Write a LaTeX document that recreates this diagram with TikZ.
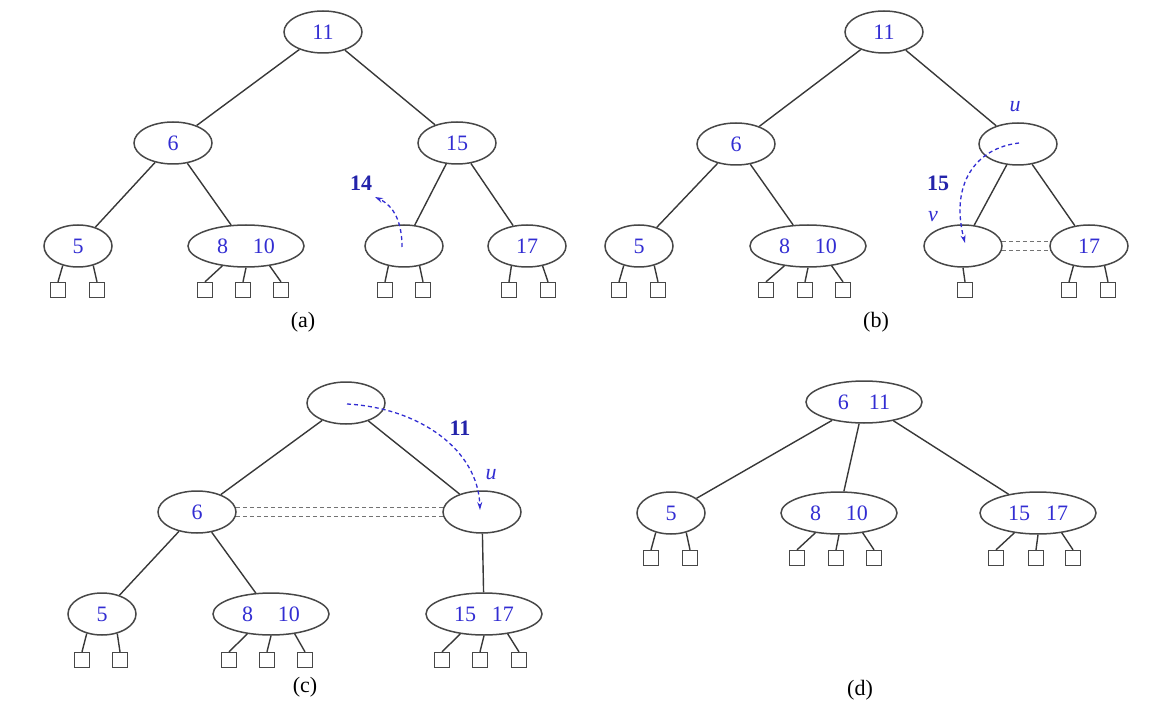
\documentclass[tikz,border=0pt]{standalone}
\usepackage{fontspec}
\setmainfont{Liberation Serif}
\usetikzlibrary{shapes.geometric,arrows.meta}
\definecolor{numblue}{RGB}{50,45,210}
\definecolor{boldblue}{RGB}{35,35,170}
\newcommand{\numfont}{\fontsize{22}{26}\selectfont}
\tikzset{
 tn/.style={ellipse, draw=black!72, line width=1.5pt, inner sep=0pt, minimum height=42pt, text=numblue, font=\numfont},
 sm/.style={tn, minimum width=78pt},
 sn/.style={tn, minimum width=68pt},
 wd/.style={tn, minimum width=116pt},
 leaf/.style={rectangle, draw=black!72, line width=1.3pt, minimum size=15pt, inner sep=0pt},
 edge/.style={draw=black!78, line width=1.4pt},
 thread/.style={draw=black!55, line width=1.3pt, dash pattern=on 4.5pt off 2.5pt},
 move/.style={draw=numblue, line width=1.3pt, dash pattern=on 4pt off 3pt, -{Stealth[length=8pt,width=5pt]}},
 lbl/.style={font=\numfont, inner sep=0pt},
 mv/.style={text=boldblue, font=\numfont\bfseries, inner sep=0pt},
 var/.style={text=numblue, font=\numfont\itshape, inner sep=0pt},
}
\begin{document}
\begin{tikzpicture}[x=1pt,y=-1pt]
\useasboundingbox (0,0) rectangle (1152,722);
% ---------------- (a)
\node[sm] (a11) at (323,32) {11};
\node[sm] (a6) at (173,143) {6};
\node[sm] (a15) at (457,143) {15};
\node[sn] (a5) at (78,246) {5};
\node[wd] (a810) at (246,246) {8\hspace{25pt}10};
\node[sm] (ae) at (404,246) {};
\node[sm] (a17) at (527,246) {17};
\foreach \n/\x in {a5l1/58,a5l2/97,a810l1/205,a810l2/243,a810l3/281,ael1/385,ael2/423,a17l1/509,a17l2/548}
  \node[leaf] (\n) at (\x,290) {};
\draw[edge] (a11) -- (a6); \draw[edge] (a11) -- (a15);
\draw[edge] (a6) -- (a5); \draw[edge] (a6) -- (a810);
\draw[edge] (a15) -- (ae); \draw[edge] (a15) -- (a17);
\draw[edge] (a5.232) -- (a5l1.north); \draw[edge] (a5.308) -- (a5l2.north);
\draw[edge] (a810.220) -- (a810l1.north); \draw[edge] (a810.270) -- (a810l2.north); \draw[edge] (a810.320) -- (a810l3.north);
\draw[edge] (ae.232) -- (ael1.north); \draw[edge] (ae.308) -- (ael2.north);
\draw[edge] (a17.232) -- (a17l1.north); \draw[edge] (a17.308) -- (a17l2.north);
\coordinate (as) at (402,247);
\coordinate (at) at (375,197);
\draw[move] (as) .. controls (402,222) and (394,206) .. (at);
\node[mv] (a14) at (361,183) {14};
\node[lbl] (acap) at (303,322) {(a)};
% ---------------- (b)
\node[sm] (b11) at (884,32) {11};
\node[sm] (b6) at (736,144) {6};
\node[sm] (bu) at (1018,144) {};
\node[sn] (b5) at (639,246) {5};
\node[wd] (b810) at (808,246) {8\hspace{25pt}10};
\node[sm] (bv) at (963,246) {};
\node[sm] (b17) at (1089,246) {17};
\foreach \n/\x in {b5l1/619,b5l2/658,b810l1/766,b810l2/805,b810l3/843,bvl/965,b17l1/1069,b17l2/1108}
  \node[leaf] (\n) at (\x,290) {};
\draw[edge] (b11) -- (b6); \draw[edge] (b11) -- (bu);
\draw[edge] (b6) -- (b5); \draw[edge] (b6) -- (b810);
\draw[edge] (bu) -- (bv); \draw[edge] (bu) -- (b17);
\draw[edge] (b5.232) -- (b5l1.north); \draw[edge] (b5.308) -- (b5l2.north);
\draw[edge] (b810.220) -- (b810l1.north); \draw[edge] (b810.270) -- (b810l2.north); \draw[edge] (b810.320) -- (b810l3.north);
\draw[edge] (bv.south) -- (bvl.north);
\draw[edge] (b17.232) -- (b17l1.north); \draw[edge] (b17.308) -- (b17l2.north);
\draw[thread] (bv.7) -- (b17.173);
\draw[thread] (bv.-7) -- (b17.187);
\coordinate (bs) at (1019,143);
\coordinate (bt) at (965,243);
\draw[move] (bs) .. controls (975,148) and (950,185) .. (bt);
\node[var] (bul) at (1015,107) {u};
\node[var] (bvl2) at (933,217) {v};
\node[mv] (b15) at (938,183) {15};
\node[lbl] (bcap) at (876,322) {(b)};
% ---------------- (c)
\node[sm] (ct) at (346,403) {};
\node[sm] (c6) at (197,512) {6};
\node[sm] (cu) at (482,512) {};
\node[sn] (c5) at (102,614) {5};
\node[wd] (c810) at (271,614) {8\hspace{25pt}10};
\node[wd] (c1517) at (484,614) {15\hspace{16pt}17};
\foreach \n/\x in {c5l1/82,c5l2/120,c810l1/229,c810l2/267,c810l3/305,c1517l1/442,c1517l2/480,c1517l3/519}
  \node[leaf] (\n) at (\x,660) {};
\draw[edge] (ct) -- (c6); \draw[edge] (ct) -- (cu);
\draw[edge] (c6) -- (c5); \draw[edge] (c6) -- (c810);
\draw[edge] (cu) -- (c1517);
\draw[edge] (c5.232) -- (c5l1.north); \draw[edge] (c5.308) -- (c5l2.north);
\draw[edge] (c810.220) -- (c810l1.north); \draw[edge] (c810.270) -- (c810l2.north); \draw[edge] (c810.320) -- (c810l3.north);
\draw[edge] (c1517.220) -- (c1517l1.north); \draw[edge] (c1517.270) -- (c1517l2.north); \draw[edge] (c1517.320) -- (c1517l3.north);
\draw[thread] (c6.7) -- (cu.173);
\draw[thread] (c6.-7) -- (cu.187);
\coordinate (cs) at (347,404);
\coordinate (ctip) at (480,510);
\draw[move] (cs) .. controls (420,408) and (478,450) .. (ctip);
\node[mv] (c11) at (460,428) {11};
\node[var] (cul) at (491,475) {u};
\node[lbl] (ccap) at (305,687) {(c)};
% ---------------- (d)
\node[wd] (d611) at (864,402) {6\hspace{20pt}11};
\node[sn] (d5) at (671,513) {5};
\node[wd] (d810) at (839,513) {8\hspace{25pt}10};
\node[wd] (d1517) at (1038,513) {15\hspace{16pt}17};
\foreach \n/\x in {d5l1/651,d5l2/690,d810l1/797,d810l2/836,d810l3/874,d1517l1/996,d1517l2/1036,d1517l3/1073}
  \node[leaf] (\n) at (\x,558) {};
\draw[edge] (d611) -- (d5); \draw[edge] (d611) -- (d810); \draw[edge] (d611) -- (d1517);
\draw[edge] (d5.232) -- (d5l1.north); \draw[edge] (d5.308) -- (d5l2.north);
\draw[edge] (d810.220) -- (d810l1.north); \draw[edge] (d810.270) -- (d810l2.north); \draw[edge] (d810.320) -- (d810l3.north);
\draw[edge] (d1517.220) -- (d1517l1.north); \draw[edge] (d1517.270) -- (d1517l2.north); \draw[edge] (d1517.320) -- (d1517l3.north);
\node[lbl] (dcap) at (860,690) {(d)};
\end{tikzpicture}
\end{document}
